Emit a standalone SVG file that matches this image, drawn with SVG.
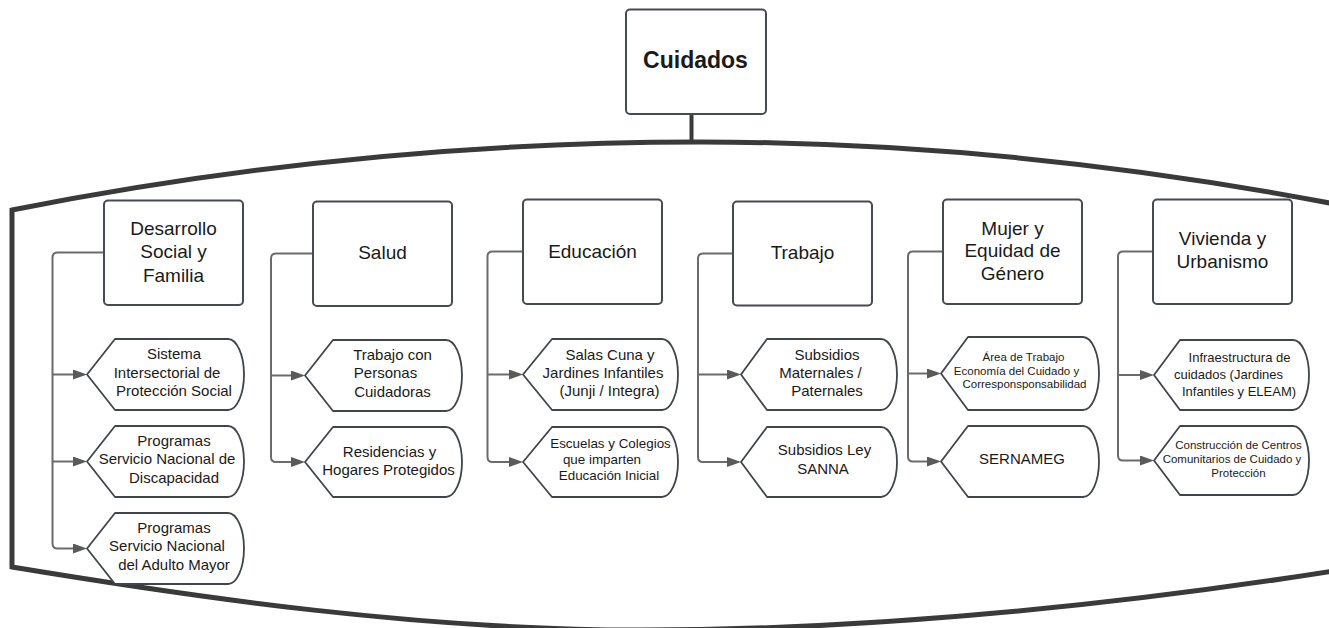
<svg xmlns="http://www.w3.org/2000/svg" width="1329" height="628" viewBox="0 0 1329 628">
<style>
  .frame{fill:none;stroke:#3a3a3a;stroke-width:5;stroke-linejoin:miter}
  .box{fill:#ffffff;stroke:#464b52;stroke-width:2}
  .child{fill:#ffffff;stroke:#40454c;stroke-width:1.8;stroke-linejoin:round}
  .conn{fill:none;stroke:#6b6b6b;stroke-width:2}
  .t{font-family:"Liberation Sans",Arial,sans-serif;fill:#1a1a1a;text-anchor:middle}
  .cat{font-size:19px}
  .s15{font-size:15px}
  .s135{font-size:13.4px}
  .s13{font-size:13px}
  .s115{font-size:11.5px}
</style>
<defs>
  <marker id="arr" markerUnits="userSpaceOnUse" markerWidth="14" markerHeight="10" refX="8" refY="5" orient="auto">
    <path d="M0,0 L14,5 L0,10 Z" fill="#5a5a5a"/>
  </marker>
</defs>
<rect width="1329" height="628" fill="#ffffff"/>

<g id="frame">
  <path class="frame" d="M1340,205 Q1014,142 700,142 Q356,142 12,210 V567 C200,598 420,630 640,630 C900,630 1150,600 1340,570"/>
</g>

<g id="connectors">
  <path d="M691.5,114 V143" fill="none" stroke="#3a3a3a" stroke-width="4"/>
  <!-- col1 -->
  <path class="conn" marker-end="url(#arr)" d="M104,252.5 H57.5 Q52.5,252.5 52.5,257.5 V543.5 Q52.5,548.5 57.5,548.5 H81"/>
  <path class="conn" marker-end="url(#arr)" d="M52.5,374.5 H81"/>
  <path class="conn" marker-end="url(#arr)" d="M52.5,461.5 H81"/>
  <!-- col2 -->
  <path class="conn" marker-end="url(#arr)" d="M313,253.5 H276 Q271,253.5 271,258.5 V457 Q271,462 276,462 H299"/>
  <path class="conn" marker-end="url(#arr)" d="M271,375.5 H299"/>
  <!-- col3 -->
  <path class="conn" marker-end="url(#arr)" d="M523,251.5 H492.5 Q487.5,251.5 487.5,256.5 V457 Q487.5,462 492.5,462 H517"/>
  <path class="conn" marker-end="url(#arr)" d="M487.5,374.5 H517"/>
  <!-- col4 -->
  <path class="conn" marker-end="url(#arr)" d="M733,253.5 H703 Q698,253.5 698,258.5 V457 Q698,462 703,462 H735"/>
  <path class="conn" marker-end="url(#arr)" d="M698,374.5 H735"/>
  <!-- col5 -->
  <path class="conn" marker-end="url(#arr)" d="M943,251.5 H913 Q908,251.5 908,256.5 V456.5 Q908,461.5 913,461.5 H935"/>
  <path class="conn" marker-end="url(#arr)" d="M908,373.5 H935"/>
  <!-- col6 -->
  <path class="conn" marker-end="url(#arr)" d="M1153,251.5 H1123 Q1118,251.5 1118,256.5 V455.5 Q1118,460.5 1123,460.5 H1148"/>
  <path class="conn" marker-end="url(#arr)" d="M1118,375 H1148"/>
</g>

<g id="cuidados">
  <rect class="box" x="626" y="9.5" width="140" height="104.5" rx="4"/>
  <text class="t" x="695.5" y="68" font-size="23" font-weight="bold">Cuidados</text>
</g>

<g id="desarrollo">
  <rect class="box" x="104" y="200.5" width="139" height="104.5" rx="4"/>
  <text class="t cat" x="173.5" y="235">Desarrollo</text>
  <text class="t cat" x="173.5" y="258">Social y</text>
  <text class="t cat" x="173.5" y="281.5">Familia</text>
</g>
<g id="salud">
  <rect class="box" x="313" y="201.5" width="139" height="104.5" rx="4"/>
  <text class="t cat" x="382.5" y="259">Salud</text>
</g>
<g id="educacion">
  <rect class="box" x="523" y="199.5" width="139" height="104.5" rx="4"/>
  <text class="t cat" x="592.5" y="257.5">Educación</text>
</g>
<g id="trabajo">
  <rect class="box" x="733" y="201.5" width="139" height="104" rx="4"/>
  <text class="t cat" x="802.5" y="259">Trabajo</text>
</g>
<g id="mujer">
  <rect class="box" x="943" y="199.5" width="139" height="104.5" rx="4"/>
  <text class="t cat" x="1012.5" y="234.5">Mujer y</text>
  <text class="t cat" x="1012.5" y="257">Equidad de</text>
  <text class="t cat" x="1012.5" y="280">Género</text>
</g>
<g id="vivienda">
  <rect class="box" x="1153" y="199.5" width="139" height="104.5" rx="4"/>
  <text class="t cat" x="1222.5" y="244.5">Vivienda y</text>
  <text class="t cat" x="1222.5" y="267.5">Urbanismo</text>
</g>

<!-- children col1 -->
<g id="c1a">
  <path class="child" d="M87,374.5 L115,339 H228 A16,35.5 0 0 1 228,410 H115 Z"/>
  <text class="t s15" x="174" y="359">Sistema</text>
  <text class="t s15" x="167" y="377.5">Intersectorial de</text>
  <text class="t s15" x="174" y="396">Protección Social</text>
</g>
<g id="c1b">
  <path class="child" d="M87,461.5 L115,426 H228 A16,35.5 0 0 1 228,497 H115 Z"/>
  <text class="t s15" x="174" y="445.5">Programas</text>
  <text class="t s15" x="167" y="464">Servicio Nacional de</text>
  <text class="t s15" x="174" y="482.5">Discapacidad</text>
</g>
<g id="c1c">
  <path class="child" d="M87,548.5 L115,513 H228 A16,35.5 0 0 1 228,584 H115 Z"/>
  <text class="t s15" x="174" y="532.5">Programas</text>
  <text class="t s15" x="167" y="551">Servicio Nacional</text>
  <text class="t s15" x="174" y="570">del Adulto Mayor</text>
</g>

<!-- children col2 -->
<g id="c2a">
  <path class="child" d="M305,375.5 L333,340 H446 A16,35.5 0 0 1 446,411 H333 Z"/>
  <text class="t s15" x="392.5" y="359.5">Trabajo con</text>
  <text class="t s15" x="385.5" y="378">Personas</text>
  <text class="t s15" x="392.5" y="396.5">Cuidadoras</text>
</g>
<g id="c2b">
  <path class="child" d="M305,462 L333,427 H446 A16,35 0 0 1 446,497 H333 Z"/>
  <text class="t s15" x="389.5" y="456.5">Residencias y</text>
  <text class="t s15" x="388.5" y="475">Hogares Protegidos</text>
</g>

<!-- children col3 -->
<g id="c3a">
  <path class="child" d="M523,374.5 L552,339 H662 A16,35.5 0 0 1 662,410 H552 Z"/>
  <text class="t s15" x="610" y="359.5">Salas Cuna y</text>
  <text class="t s15" x="603" y="378">Jardines Infantiles</text>
  <text class="t s15" x="609.5" y="396">(Junji / Integra)</text>
</g>
<g id="c3b">
  <path class="child" d="M523,462 L552,427 H662 A16,35 0 0 1 662,497 H552 Z"/>
  <text class="t s135" x="610.5" y="448">Escuelas y Colegios</text>
  <text class="t s135" x="602" y="463.5">que imparten</text>
  <text class="t s135" x="609" y="480">Educación Inicial</text>
</g>

<!-- children col4 -->
<g id="c4a">
  <path class="child" d="M741,374.5 L767,339 H881 A16,35.5 0 0 1 881,410 H767 Z"/>
  <text class="t s15" x="827" y="359.5">Subsidios</text>
  <text class="t s15" x="820.5" y="377.5">Maternales /</text>
  <text class="t s15" x="827" y="396">Paternales</text>
</g>
<g id="c4b">
  <path class="child" d="M741,462 L767,427 H881 A16,35 0 0 1 881,497 H767 Z"/>
  <text class="t s15" x="824.5" y="455">Subsidios Ley</text>
  <text class="t s15" x="823" y="473.5">SANNA</text>
</g>

<!-- children col5 -->
<g id="c5a">
  <path class="child" d="M941,373.5 L968,337 H1083 A16,36.5 0 0 1 1083,410 H968 Z"/>
  <text class="t s115" x="1023.5" y="360.5">Área de Trabajo</text>
  <text class="t s115" x="1016.5" y="374.5">Economía del Cuidado y</text>
  <text class="t s115" x="1024.5" y="388">Corresponsponsabilidad</text>
</g>
<g id="c5b">
  <path class="child" d="M941,461.5 L968,426 H1083 A16,35.5 0 0 1 1083,497 H968 Z"/>
  <text class="t s15" x="1022" y="464">SERNAMEG</text>
</g>

<!-- children col6 -->
<g id="c6a">
  <path class="child" d="M1154,375 L1180,340 H1293 A16,35 0 0 1 1293,410 H1180 Z"/>
  <text class="t s13" x="1239.5" y="361.5">Infraestructura de</text>
  <text class="t s13" x="1228.5" y="378.5">cuidados (Jardines</text>
  <text class="t s13" x="1239" y="395.5">Infantiles y ELEAM)</text>
</g>
<g id="c6b">
  <path class="child" d="M1154,460.5 L1180,426 H1293 A16,34.5 0 0 1 1293,495 H1180 Z"/>
  <text class="t s115" x="1238.5" y="449">Construcción de Centros</text>
  <text class="t s115" x="1232" y="462.5">Comunitarios de Cuidado y</text>
  <text class="t s115" x="1238.5" y="476.5">Protección</text>
</g>
</svg>
